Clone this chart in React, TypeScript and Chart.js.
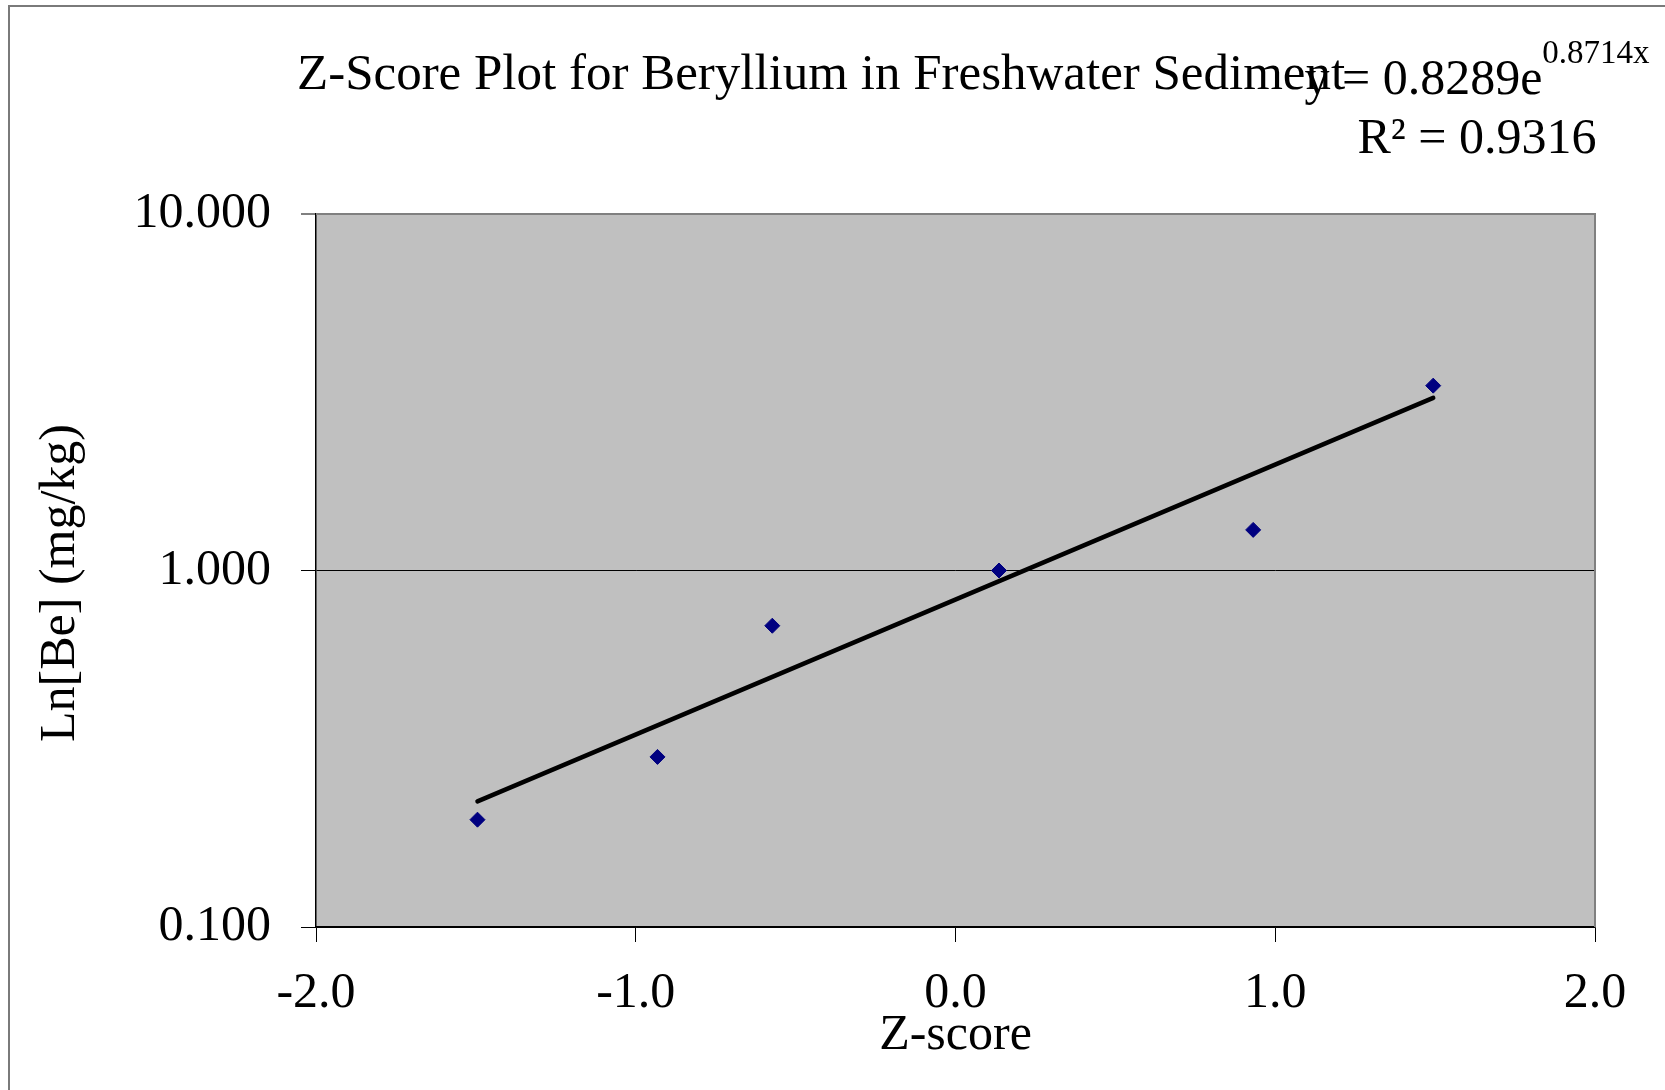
import React, { useEffect, useRef } from "react";
import { Chart, registerables } from "chart.js";

Chart.register(...registerables);

// ---- data ----
const zScores = [-1.495, -0.932, -0.573, 0.136, 0.931, 1.494];
const beValues = [0.2, 0.3, 0.7, 1.0, 1.3, 3.3];
const trendZ = [-1.495, 1.494];
const trendBe = [0.225, 3.05];
const xTicks = [-2, -1, 0, 1, 2];
const yTicks = [0.1, 1, 10];
const titleText = "Z-Score Plot for Beryllium in Freshwater Sediment";
const eqMain = "y = 0.8289e";
const eqSup = "0.8714x";
const r2Text = "R\u00B2 = 0.9316";
const xTitle = "Z-score";
const yTitle = "Ln[Be] (mg/kg)";

const FAMILY = "'Liberation Serif', 'Times New Roman', serif";
const W = 1665;
const H = 1090;

const decor = {
  id: "decor",
  beforeDraw(chart: any) {
    const { ctx, chartArea: a } = chart;
    ctx.save();
    ctx.fillStyle = "#ffffff";
    ctx.fillRect(0, 0, chart.width, chart.height);
    // outer chart border (left and top visible)
    ctx.strokeStyle = "#7a7a7a";
    ctx.lineWidth = 2;
    ctx.beginPath();
    ctx.moveTo(9, chart.height);
    ctx.lineTo(9, 6);
    ctx.lineTo(chart.width, 6);
    ctx.stroke();
    // plot area background
    ctx.fillStyle = "#C0C0C0";
    ctx.fillRect(a.left, a.top, a.right - a.left, a.bottom - a.top);
    ctx.restore();
  },
  beforeDatasetsDraw(chart: any) {
    const { ctx, chartArea: a } = chart;
    ctx.save();
    ctx.strokeStyle = "#808080";
    ctx.lineWidth = 2;
    ctx.beginPath();
    ctx.moveTo(a.left, a.top);
    ctx.lineTo(a.right, a.top);
    ctx.lineTo(a.right, a.bottom);
    ctx.stroke();
    ctx.restore();
  },
  afterDraw(chart: any) {
    const { ctx } = chart;
    ctx.save();
    ctx.fillStyle = "#000";
    ctx.textBaseline = "alphabetic";
    ctx.textAlign = "left";
    ctx.font = `51px ${FAMILY}`;
    ctx.fillText(titleText, 297, 89);
    // trendline equation
    const cx = 1477;
    ctx.font = `50px ${FAMILY}`;
    const wMain = ctx.measureText(eqMain).width;
    ctx.font = `33px ${FAMILY}`;
    const wSup = ctx.measureText(eqSup).width;
    const start = cx - (wMain + wSup) / 2;
    ctx.font = `50px ${FAMILY}`;
    ctx.fillText(eqMain, start, 94);
    ctx.font = `33px ${FAMILY}`;
    ctx.fillText(eqSup, start + wMain, 63);
    ctx.font = `50px ${FAMILY}`;
    ctx.textAlign = "center";
    ctx.fillText(r2Text, cx, 153);
    // y axis title
    ctx.translate(61, 583);
    ctx.rotate(-Math.PI / 2);
    ctx.textAlign = "center";
    ctx.textBaseline = "middle";
    ctx.fillText(yTitle, 0, 0);
    ctx.restore();
  },
};

export default function App() {
  const ref = useRef<HTMLCanvasElement | null>(null);

  useEffect(() => {
    if (!ref.current) return;
    const font = { family: FAMILY, size: 50 };
    const chart = new Chart(ref.current, {
      type: "scatter",
      data: {
        datasets: [
          {
            label: "Trend",
            data: trendZ.map((x, i) => ({ x, y: trendBe[i] })),
            showLine: true,
            borderColor: "#000000",
            borderWidth: 4.5,
            borderCapStyle: "round",
            pointRadius: 0,
            pointHoverRadius: 0,
            fill: false,
          } as any,
          {
            label: "Be",
            data: zScores.map((x, i) => ({ x, y: beValues[i] })),
            showLine: false,
            pointStyle: "rectRot",
            pointRadius: 7.5,
            backgroundColor: "#000080",
            borderColor: "#000080",
            borderWidth: 1,
          } as any,
        ],
      },
      options: {
        responsive: false,
        animation: false,
        devicePixelRatio: 1,
        layout: { padding: { top: 214, left: 0, right: 70, bottom: 0 } },
        plugins: {
          legend: { display: false },
          tooltip: { enabled: false },
          title: { display: false },
        },
        scales: {
          x: {
            type: "linear",
            min: -2,
            max: 2,
            afterBuildTicks: (s: any) => {
              s.ticks = xTicks.map((v) => ({ value: v }));
            },
            afterFit: (s: any) => {
              s.height = 163;
            },
            ticks: {
              font,
              color: "#000",
              padding: 22,
              autoSkip: false,
              maxRotation: 0,
              callback: (v: any) => Number(v).toFixed(1),
            },
            grid: {
              drawOnChartArea: false,
              drawTicks: true,
              tickLength: 15,
              color: "#000",
              lineWidth: 1,
            },
            border: { display: true, color: "#000", width: 1.5 },
            title: {
              display: true,
              text: xTitle,
              font,
              color: "#000",
              padding: { top: 0, bottom: 24 },
            },
          },
          y: {
            type: "logarithmic",
            min: 0.1,
            max: 10,
            afterBuildTicks: (s: any) => {
              s.ticks = yTicks.map((v) => ({ value: v, major: true }));
            },
            afterFit: (s: any) => {
              s.width = 316;
            },
            ticks: {
              font,
              color: "#000",
              padding: 30,
              autoSkip: false,
              callback: (v: any) => Number(v).toFixed(3),
            },
            grid: {
              drawTicks: true,
              tickLength: 15,
              color: (c: any) => (c.tick && c.tick.value === 10 ? "#808080" : "#000"),
              lineWidth: (c: any) => (c.tick && c.tick.value === 10 ? 2 : 1),
            },
            border: { display: true, color: "#000", width: 1.5 },
            title: { display: false },
          },
        },
      },
      plugins: [decor],
    } as any);
    return () => chart.destroy();
  }, []);

  return (
    <div style={{ position: "absolute", left: 0, top: 0, width: W, height: H, overflow: "hidden" }}>
      <canvas ref={ref} width={W} height={H} style={{ display: "block", width: W, height: H }} />
    </div>
  );
}
